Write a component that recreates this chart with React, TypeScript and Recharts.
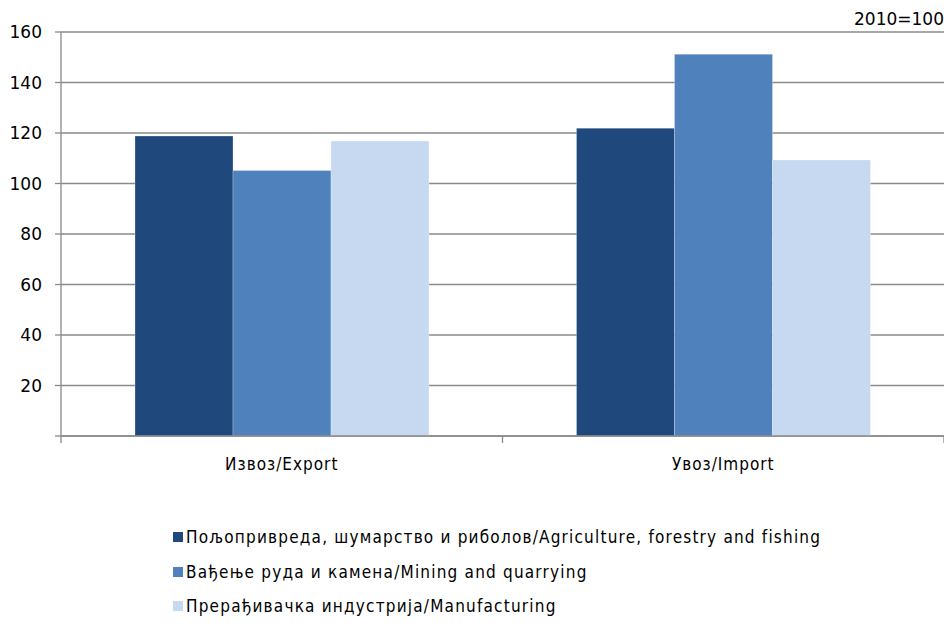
import React from 'react';
import { Bar, BarChart, CartesianGrid, Legend, XAxis, YAxis } from 'recharts';

const categories = ['Извоз/Export', 'Увоз/Import'];
const agriculture = [118.8, 121.9];
const mining = [105.1, 151.2];
const manufacturing = [116.8, 109.3];
const yTicks = [0, 20, 40, 60, 80, 100, 120, 140, 160];

const seriesNames = [
  'Пољопривреда, шумарство и риболов/Agriculture, forestry and fishing',
  'Вађење руда и камена/Mining and quarrying',
  'Прерађивачка индустрија/Manufacturing',
];
const colors = ['#1f497d', '#4f81bd', '#c6d9f1'];

const data = categories.map((name, i) => ({
  name,
  agriculture: agriculture[i],
  mining: mining[i],
  manufacturing: manufacturing[i],
}));

const FONT = '"DejaVu Sans", Verdana, sans-serif';
const NARROW = '"DejaVu Sans Condensed", "DejaVu Sans", sans-serif';
const GRID = '#8a8a8a';

// category label + tick marks on the category boundaries
const CategoryTick = (props: any) => {
  const { x, y, payload, index, visibleTicksCount } = props;
  const half = payload?.offset ?? 220.75;
  return (
    <g>
      <line x1={x - half} y1={y} x2={x - half} y2={y + 7} stroke={GRID} strokeWidth={1.3} />
      {index === visibleTicksCount - 1 && (
        <line x1={x + half} y1={y} x2={x + half} y2={y + 7} stroke={GRID} strokeWidth={1.3} />
      )}
      <text
        x={x}
        y={y + 34}
        textAnchor="middle"
        fontSize={17}
        fill="#000"
        fontFamily={NARROW}
        letterSpacing={1}
      >
        {payload.value}
      </text>
    </g>
  );
};

const LegendList = () => (
  <div style={{ fontFamily: NARROW, fontSize: 17, color: '#000', letterSpacing: 1.2 }}>
    {seriesNames.map((n, i) => (
      <div key={n} style={{ display: 'flex', alignItems: 'center', height: 34.5 }}>
        <span style={{ width: 10, height: 10, background: colors[i], marginRight: 3, display: 'inline-block' }} />
        {n}
      </div>
    ))}
  </div>
);

export default function App() {
  return (
    <div style={{ position: 'relative', width: 944, height: 623, overflow: 'hidden' }}>
      <style>{'html,body{margin:0;padding:0;overflow:hidden}'}</style>
      <BarChart
        width={944}
        height={623}
        data={data}
        margin={{ top: 32, right: 0, left: 8, bottom: 147 }}
        barSize={98}
        barGap={0}
      >
        <CartesianGrid vertical={false} stroke={GRID} strokeWidth={1.3} />
        <XAxis
          dataKey="name"
          height={40}
          axisLine={{ stroke: GRID, strokeWidth: 1.3 }}
          tickLine={false}
          tickSize={0}
          tickMargin={0}
          tick={<CategoryTick />}
          interval={0}
        />
        <YAxis
          width={53}
          domain={[0, 160]}
          ticks={yTicks}
          interval={0}
          axisLine={{ stroke: GRID, strokeWidth: 1.3 }}
          tickLine={{ stroke: GRID, strokeWidth: 1.3 }}
          tickSize={6}
          tickMargin={13}
          tickFormatter={(v) => (v === 0 ? '' : String(v))}
          tick={{ fill: '#000', fontSize: 17, fontFamily: FONT }}
        />
        <Bar dataKey="agriculture" name={seriesNames[0]} fill={colors[0]} stroke="#ffffff" strokeOpacity={0.25} isAnimationActive={false} />
        <Bar dataKey="mining" name={seriesNames[1]} fill={colors[1]} stroke="#ffffff" strokeOpacity={0.25} isAnimationActive={false} />
        <Bar dataKey="manufacturing" name={seriesNames[2]} fill={colors[2]} stroke="#ffffff" strokeOpacity={0.25} isAnimationActive={false} />
        <Legend
          layout="vertical"
          align="center"
          verticalAlign="middle"
          content={() => <LegendList />}
          wrapperStyle={{ position: 'absolute', left: 173, top: 520, width: 'auto' }}
        />
      </BarChart>
      <div
        style={{
          position: 'absolute',
          right: 0,
          top: 9,
          fontFamily: FONT,
          fontSize: 17,
          color: '#000',
          lineHeight: '20px',
        }}
      >
        2010=100
      </div>
    </div>
  );
}
